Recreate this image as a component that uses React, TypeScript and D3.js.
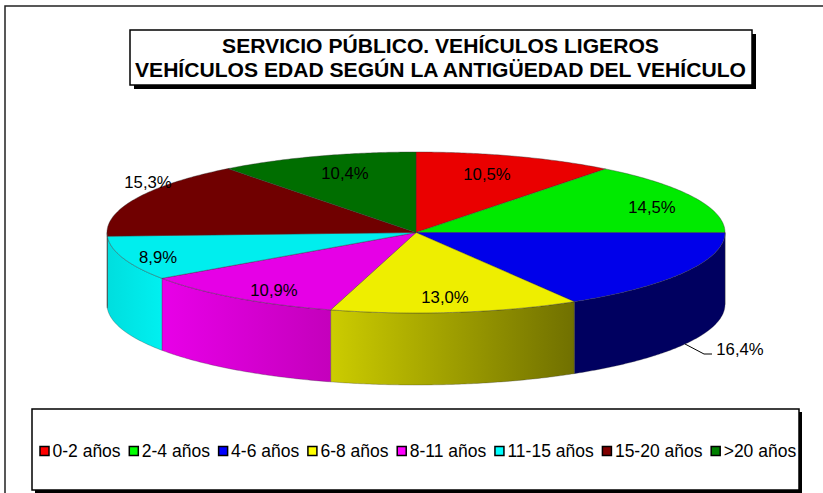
import React from "react";
import * as d3 from "d3";

const titleLines = ["SERVICIO PÚBLICO. VEHÍCULOS LIGEROS", "VEHÍCULOS EDAD SEGÚN LA ANTIGÜEDAD DEL VEHÍCULO"];
const categories = ["0-2 años", "2-4 años", "4-6 años", "6-8 años", "8-11 años", "11-15 años", "15-20 años", ">20 años"];
const values = [10.5, 14.5, 16.4, 13.0, 10.9, 8.9, 15.3, 10.4];
const legendColors = ["#ff0000", "#00ff00", "#0000ff", "#ffff00", "#ff00ff", "#00ffff", "#800000", "#008000"];
const topColors = ["#ea0000", "#00ea00", "#0000ea", "#eeee00", "#e600e6", "#00eeee", "#700000", "#006e00"];
const sideStart = ["#a00000", "#00a000", "#000060", "#cccc00", "#e800e8", "#00dede", "#500000", "#004e00"];
const sideEnd = ["#a00000", "#00a000", "#000060", "#707000", "#c400bc", "#00f0f0", "#500000", "#004e00"];
const labelCenters: [number, number][] = [[487, 174], [652, 207], [740, 349], [445, 297], [274, 290], [158, 257], [148, 182], [345, 173]];

const W = 823, H = 493;
const cx = 416, cy = 232.5, rx = 309, ry = 80.5, depth = 72;

const fmt = (v: number) => v.toFixed(1).replace(".", ",") + "%";

const px = d3.scaleLinear().domain([-1, 1]).range([cx - rx, cx + rx]);
const py = d3.scaleLinear().domain([-1, 1]).range([cy - ry, cy + ry]);
const rimPoint = (a: number, dy = 0): [number, number] => [px(Math.sin(a)), py(-Math.cos(a)) + dy];
const rimAngles = (a0: number, a1: number) => {
  const n = Math.max(2, Math.ceil((a1 - a0) / 0.01));
  return d3.range(n + 1).map((i) => a0 + ((a1 - a0) * i) / n);
};
const lineGen = d3.line<[number, number]>();

const arcs = d3.pie<number>().sort(null).value((d) => d)(values);

const legendFontSize = 17.5;
const legendFont = `${legendFontSize}px "Liberation Sans"`;
function measure(text: string): number {
  const ctx = document.createElement("canvas").getContext("2d")!;
  ctx.font = legendFont;
  return ctx.measureText(text).width;
}

function Box({ x, y, w, h, s, sw }: { x: number; y: number; w: number; h: number; s: number; sw: number }) {
  return (
    <g>
      <rect x={x + s} y={y + s} width={w} height={h} fill="#000" />
      <rect x={x} y={y} width={w} height={h} fill="#fff" stroke="#000" strokeWidth={sw} />
    </g>
  );
}

export default function App() {
  const frontAngles = arcs.map((a) => {
    const a0 = Math.max(a.startAngle, Math.PI / 2);
    const a1 = Math.min(a.endAngle, (3 * Math.PI) / 2);
    return a1 > a0 ? [a0, a1] : null;
  });

  let lx = 39;
  const legendItems = categories.map((c, i) => {
    const item = { c, i, x: lx };
    lx += 13.5 + measure(c) + 7.7;
    return item;
  });

  return (
    <svg width={W} height={H} style={{ position: "absolute", left: 0, top: 0, background: "#fff" }} fontFamily='"Liberation Sans", Arial, sans-serif'>
      <defs>
        {arcs.map((_, i) => {
          const f = frontAngles[i];
          if (!f) return null;
          const xs = [px(Math.sin(f[0])), px(Math.sin(f[1]))];
          return (
            <linearGradient key={i} id={`side${i}`} gradientUnits="userSpaceOnUse" x1={Math.min(...xs)} x2={Math.max(...xs)} y1={0} y2={0}>
              <stop offset="0" stopColor={sideStart[i]} />
              <stop offset="1" stopColor={sideEnd[i]} />
            </linearGradient>
          );
        })}
      </defs>

      <rect x={5} y={6} width={W} height={H} fill="#fff" stroke="#222" strokeWidth={1.5} />

      <Box x={130} y={30} w={622} h={55} s={4} sw={1.5} />
      <text x={440.5} y={52.5} textAnchor="middle" fontSize={21.1} fontWeight="bold">{titleLines[0]}</text>
      <text x={440.5} y={77} textAnchor="middle" fontSize={21.1} fontWeight="bold">{titleLines[1]}</text>

      {/* side walls */}
      {arcs.map((a, i) => {
        const f = frontAngles[i];
        if (!f) return null;
        const angles = rimAngles(f[0], f[1]);
        const topEdge = angles.map((t) => rimPoint(t));
        const bottomEdge = angles.map((t) => rimPoint(t, depth)).reverse();
        return <path key={i} d={lineGen([...topEdge, ...bottomEdge])! + "Z"} fill={`url(#side${i})`} stroke="#333" strokeWidth={0.3} />;
      })}

      {/* top face */}
      {arcs.map((a, i) => {
        const pts: [number, number][] = [[cx, cy], ...rimAngles(a.startAngle, a.endAngle).map((t) => rimPoint(t))];
        return <path key={i} d={lineGen(pts)! + "Z"} fill={topColors[i]} stroke="#333" strokeWidth={0.4} strokeLinejoin="round" />;
      })}

      {/* leader */}
      <polyline points="685,344 704,354 712,354" fill="none" stroke="#000" strokeWidth={1} />

      {values.map((v, i) => (
        <text key={i} x={labelCenters[i][0]} y={labelCenters[i][1] + 6} textAnchor="middle" fontSize={16.7} fill="#000">{fmt(v)}</text>
      ))}

      <Box x={32} y={409} w={767} h={81} s={3} sw={1.5} />
      {legendItems.map(({ c, i, x }) => (
        <g key={c}>
          <rect x={x + 1} y={446.5} width={9} height={9} fill={legendColors[i]} stroke="#000" strokeWidth={1.5} />
          <text x={x + 13.5} y={457.3} fontSize={legendFontSize} fill="#000">{c}</text>
        </g>
      ))}
    </svg>
  );
}
